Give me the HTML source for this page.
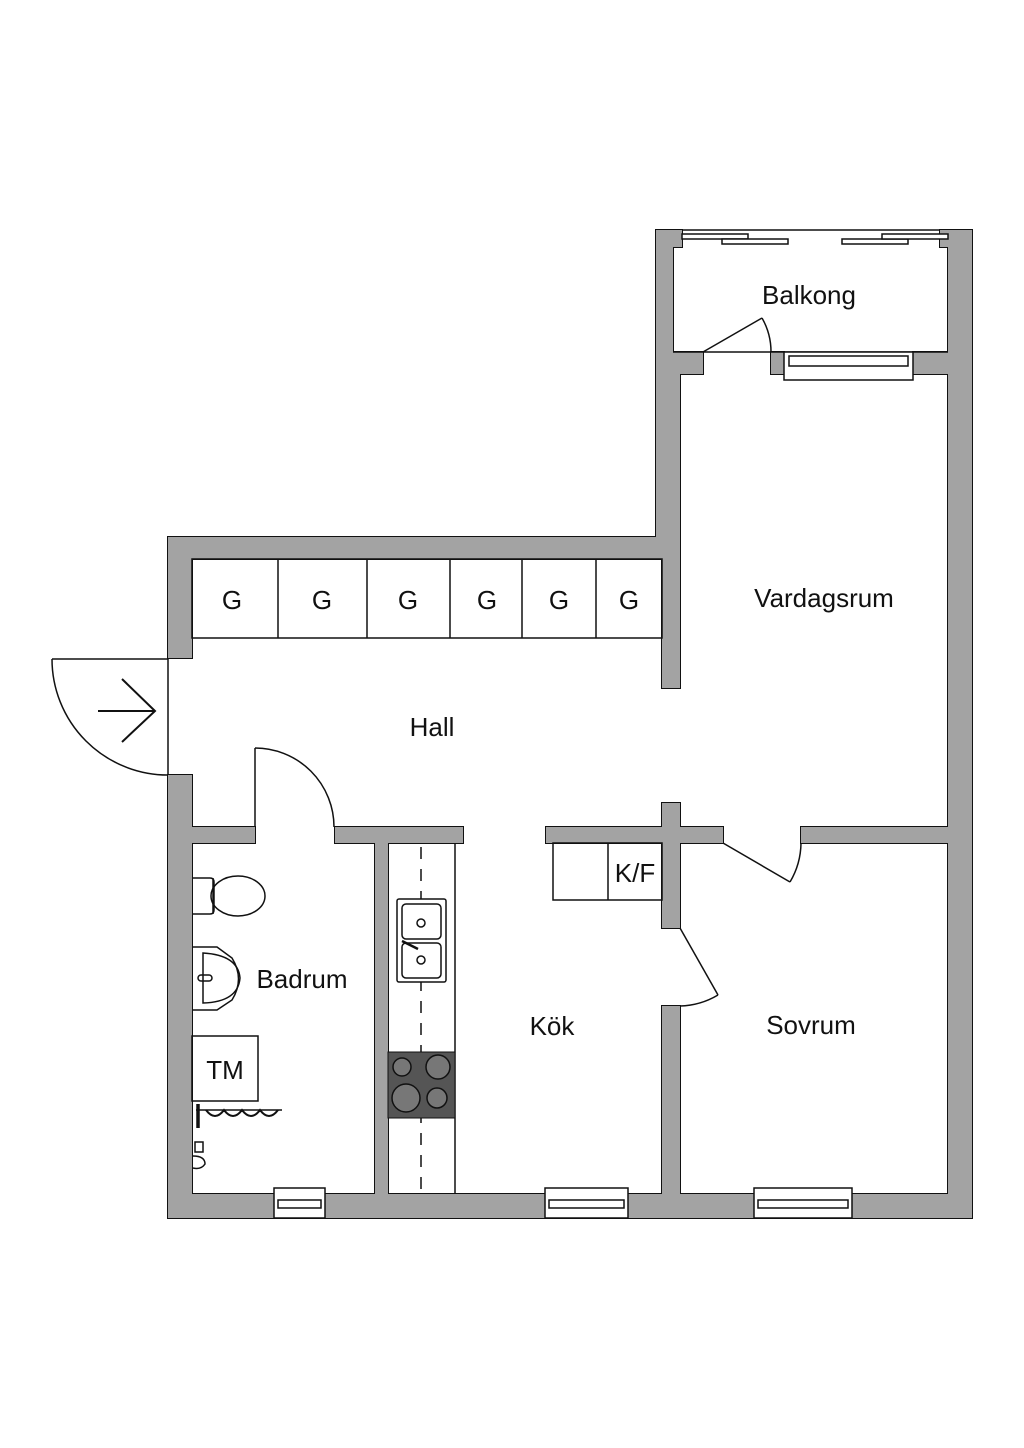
<!DOCTYPE html>
<html><head><meta charset="utf-8"><style>
html,body{margin:0;padding:0;background:#fff}
svg{display:block}
text{font-family:"Liberation Sans",sans-serif;fill:#111}
</style></head><body>
<svg width="1024" height="1448" viewBox="0 0 1024 1448" xmlns="http://www.w3.org/2000/svg">
<defs>
<g id="walls">
<rect x="168" y="537" width="512" height="22"/>
<rect x="168" y="537" width="24" height="121"/>
<rect x="168" y="775" width="24" height="443"/>
<rect x="168" y="1194" width="804" height="24"/>
<rect x="948" y="230" width="24" height="988"/>
<rect x="656" y="230" width="17" height="144"/>
<rect x="656" y="352" width="24" height="207"/>
<rect x="656" y="230" width="26" height="17"/>
<rect x="940" y="230" width="32" height="17"/>
<rect x="656" y="352" width="47" height="22"/>
<rect x="771" y="352" width="13" height="22"/>
<rect x="913" y="352" width="59" height="22"/>
<rect x="662" y="559" width="18" height="129"/>
<rect x="192" y="827" width="63" height="16"/>
<rect x="335" y="827" width="128" height="16"/>
<rect x="375" y="843" width="13" height="351"/>
<rect x="546" y="827" width="177" height="16"/>
<rect x="801" y="827" width="147" height="16"/>
<rect x="662" y="803" width="18" height="125"/>
<rect x="662" y="1006" width="18" height="188"/>
</g>
</defs>
<use href="#walls" fill="#a3a3a3" stroke="#111" stroke-width="2"/>
<use href="#walls" fill="#a3a3a3" stroke="none"/>
<g fill="none" stroke="#111" stroke-width="1.5">
<line x1="673" y1="352" x2="948" y2="352"/>
<line x1="682" y1="230" x2="940" y2="230"/>
<rect x="682" y="234" width="66" height="5" fill="#fff"/>
<rect x="722" y="239" width="66" height="5" fill="#fff"/>
<rect x="842" y="239" width="66" height="5" fill="#fff"/>
<rect x="882" y="234" width="66" height="5" fill="#fff"/>
<line x1="703" y1="352" x2="762" y2="318"/>
<path d="M762 318 A68 68 0 0 1 771 352"/>
<rect x="784" y="352" width="129" height="28" fill="#fff"/>
<rect x="789" y="356" width="119" height="10"/>
<line x1="168" y1="658" x2="168" y2="775"/>
<line x1="52" y1="659" x2="168" y2="659"/>
<path d="M52 659 A116 116 0 0 0 168 775"/>
<line x1="98" y1="711" x2="155" y2="711" stroke-width="2"/>
<polyline points="122,679 155,711 122,742" stroke-width="2"/>
<rect x="192" y="559" width="470" height="79"/>
<line x1="278" y1="559" x2="278" y2="638"/>
<line x1="367" y1="559" x2="367" y2="638"/>
<line x1="450" y1="559" x2="450" y2="638"/>
<line x1="522" y1="559" x2="522" y2="638"/>
<line x1="596" y1="559" x2="596" y2="638"/>
<line x1="255" y1="748" x2="255" y2="827"/>
<path d="M255 748 A79 79 0 0 1 334 827"/>
<line x1="723" y1="843" x2="790" y2="882"/>
<path d="M790 882 A78 78 0 0 0 801 843"/>
<line x1="680" y1="928" x2="718" y2="995"/>
<path d="M718 995 A78 78 0 0 1 680 1006"/>
<rect x="553" y="843" width="109" height="57"/>
<line x1="608" y1="843" x2="608" y2="900"/>
<line x1="455" y1="843" x2="455" y2="1194"/>
<line x1="421" y1="847" x2="421" y2="1192" stroke-dasharray="12,10"/>
<rect x="397" y="899" width="49" height="83" rx="2" fill="#fff"/>
<rect x="402" y="904" width="39" height="35" rx="4"/>
<rect x="402" y="943" width="39" height="35" rx="4"/>
<circle cx="421" cy="923" r="4"/><circle cx="421" cy="960" r="4"/>
<line x1="402" y1="941" x2="418" y2="949" stroke-width="2.5"/>
<rect x="274" y="1188" width="51" height="30" fill="#fff"/>
<rect x="278" y="1200" width="43" height="8"/>
<rect x="545" y="1188" width="83" height="30" fill="#fff"/>
<rect x="549" y="1200" width="75" height="8"/>
<rect x="754" y="1188" width="98" height="30" fill="#fff"/>
<rect x="758" y="1200" width="90" height="8"/>
<path d="M192 878 H210 Q214 878 214 882 V910 Q214 914 210 914 H192"/>
<line x1="213" y1="878" x2="213" y2="914"/>
<ellipse cx="238" cy="896" rx="27" ry="20"/>
<path d="M192 947 H217 L232 958 Q245 979 232 1000 L217 1010 H192"/>
<path d="M203 953 Q238 955 240 978 Q238 1002 203 1003 Z"/>
<rect x="198" y="975" width="14" height="6" rx="3"/>
<rect x="192" y="1036" width="66" height="65"/>
<path d="M196 1110 H282"/>
<path d="M206 1110 q9 12 18 0 q9 12 18 0 q9 12 18 0 q9 12 18 0" stroke-width="2"/>
<line x1="198" y1="1104" x2="198" y2="1128" stroke-width="3.5"/>
<path d="M195 1142 h8 v10 h-8 z M193 1156 q12 0 12 8 q-4 6 -12 4"/>
</g>
<rect x="388" y="1052" width="67" height="66" fill="#555" stroke="#111"/>
<g fill="#777" stroke="#111" stroke-width="1.5">
<circle cx="402" cy="1067" r="9"/><circle cx="438" cy="1067" r="12"/>
<circle cx="406" cy="1098" r="14"/><circle cx="437" cy="1098" r="10"/>
</g>
<g font-size="26" text-anchor="middle">
<text x="809" y="304">Balkong</text>
<text x="824" y="607">Vardagsrum</text>
<text x="432" y="736">Hall</text>
<text x="302" y="988">Badrum</text>
<text x="552" y="1035">Kök</text>
<text x="811" y="1034">Sovrum</text>
<text x="635" y="882">K/F</text>
<text x="225" y="1079">TM</text>
<text x="232" y="609">G</text><text x="322" y="609">G</text><text x="408" y="609">G</text>
<text x="487" y="609">G</text><text x="559" y="609">G</text><text x="629" y="609">G</text>
</g>
</svg>
</body></html>
